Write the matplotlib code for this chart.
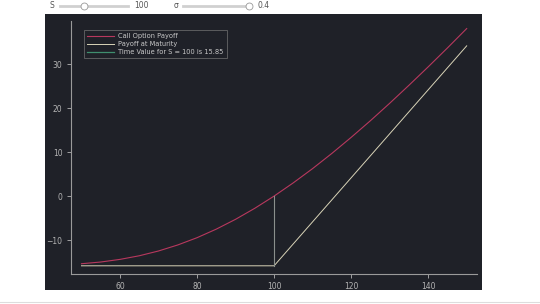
import numpy as np
import matplotlib.pyplot as plt
from matplotlib.lines import Line2D

# values (strike 100, sigma 0.4)
spot = [50, 55, 60, 65, 70, 75, 80, 85, 90, 95, 100,
        105, 110, 115, 120, 125, 130, 135, 140, 145, 150]
call_payoff = [-15.38, -14.99, -14.39, -13.57, -12.48, -11.11, -9.46, -7.51, -5.28, -2.77, 0.0,
               3.02, 6.25, 9.70, 13.34, 17.13, 21.09, 25.18, 29.37, 33.67, 38.08]
mat_spot = [50, 100, 150]
mat_payoff = [-15.85, -15.85, 34.15]
tv_spot = [100, 100]
tv_vals = [-15.85, 0.0]
tv_label = 'Time Value for S = 100 is 15.85'
xticks = [60, 80, 100, 120, 140]
yticks = [-10, 0, 10, 20, 30]

bg = '#1f2128'
fg = '#b4b4b4'

fig = plt.figure(figsize=(5.4, 3.04), dpi=100)
fig.patch.set_facecolor('white')

# dark panel behind the plot
panel = fig.add_axes([45/540, 14/304, 437/540, 276/304], zorder=-1)
panel.set_facecolor(bg)
panel.set_xticks([])
panel.set_yticks([])
for s in panel.spines.values():
    s.set_visible(False)

ax = fig.add_axes([70.7/540, (304-273.5)/304, 406/540, 252.5/304])
ax.set_facecolor(bg)

ax.plot(spot, call_payoff, color='#b8385e', lw=0.8, label='Call Option Payoff')
ax.plot(mat_spot, mat_payoff, color='#d9d4b8', lw=0.7, label='Payoff at Maturity')
ax.plot(tv_spot, tv_vals, color='#8a8f8c', lw=0.8)
ax.add_line(Line2D([], [], color='#3f8f6f', lw=0.9, label=tv_label))

ax.set_xlim(47.2, 152.6)
ax.set_ylim(-17.6, 39.8)
ax.set_xticks(xticks)
ax.set_yticks(yticks)
for s in ['top', 'right']:
    ax.spines[s].set_visible(False)
for s in ['left', 'bottom']:
    ax.spines[s].set_color('#9a9a9a')
    ax.spines[s].set_linewidth(0.8)
ax.tick_params(colors=fg, labelsize=5.5, length=3, width=0.6, pad=3)

leg = ax.legend(loc='upper left', bbox_to_anchor=(0.033, 0.964), borderaxespad=0,
                fontsize=4.8, frameon=True, fancybox=False, handlelength=4.0,
                borderpad=0.45, labelspacing=0.3, handletextpad=0.7)
leg.get_frame().set_facecolor(bg)
leg.get_frame().set_edgecolor('#777777')
leg.get_frame().set_linewidth(0.6)
for t in leg.get_texts():
    t.set_color('#c8c8c8')

# slider widgets above the chart
def slider(x0, x1, knob, label, value, lx, vx):
    y = 1 - 6/304
    fig.text(lx/540, y, label, fontsize=5.5, color='#555555', va='center', ha='left')
    fig.add_artist(Line2D([x0/540, x1/540], [y, y], color='#d0d0d0', lw=2, transform=fig.transFigure))
    fig.add_artist(Line2D([knob/540], [y], marker='o', markersize=5, markerfacecolor='white',
                          markeredgecolor='#999999', markeredgewidth=0.6, transform=fig.transFigure))
    fig.text(vx/540, y, value, fontsize=5.5, color='#555555', va='center', ha='left')

slider(60, 128, 84, 'S', '100', 50, 134)
slider(183, 250, 249, '\u03c3', '0.4', 174, 257)

fig.add_artist(Line2D([0, 1], [2/304, 2/304], color='#dddddd', lw=0.8, transform=fig.transFigure))

fig.savefig('out.png', dpi=100, facecolor=fig.get_facecolor())
